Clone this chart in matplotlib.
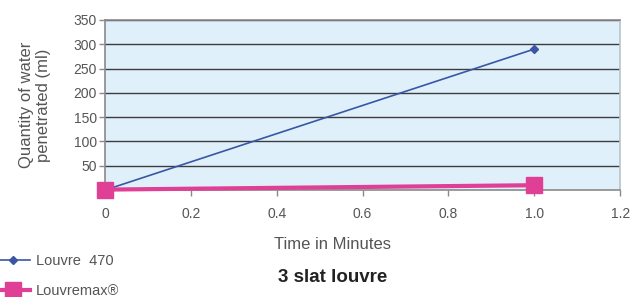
import matplotlib.pyplot as plt
from matplotlib.lines import Line2D

plt.rcParams['font.family'] = ['Liberation Sans', 'DejaVu Sans']

# data
minutes = [0, 1.0]
louvre_470 = [0, 290]
louvremax = [1, 10]
series_names = ['Louvre  470', 'Louvremax®']
y_ticks = [50, 100, 150, 200, 250, 300, 350]
x_ticks = [0, 0.2, 0.4, 0.6, 0.8, 1.0, 1.2]
x_labels = ['0', '0.2', '0.4', '0.6', '0.8', '1.0', '1.2']

blue = '#3a56a4'
pink = '#e03f96'
grey = '#555555'

fig = plt.figure(figsize=(6.4, 2.97), dpi=100)
ax = fig.add_axes([0.164, 0.36, 0.805, 0.573])
ax.set_facecolor('#dff0fb')

ax.plot(minutes, louvre_470, color=blue, lw=1.2, marker='D', ms=4.5, clip_on=False, zorder=3)
ax.plot(minutes, louvremax, color=pink, lw=3, marker='s', ms=11, clip_on=False, zorder=4)

ax.set_xlim(0, 1.2)
ax.set_ylim(0, 350)
ax.set_yticks(y_ticks)
ax.set_xticks(x_ticks)
ax.set_xticklabels(x_labels)
ax.yaxis.grid(True, color='#3c3c3c', lw=1)
ax.set_axisbelow(True)
for s in ax.spines.values():
    s.set_color('#8a8a8a')
    s.set_linewidth(1.2)
ax.spines['right'].set_color('#b8c4cc')
ax.tick_params(colors='#8a8a8a', labelcolor=grey, labelsize=10, length=4, width=1)
ax.tick_params(axis='x', pad=8)
ax.tick_params(axis='y', pad=2)

ax.set_ylabel('Quantity of water\npenetrated (ml)', fontsize=12, color=grey,
              labelpad=16, multialignment='center')
fig.text(0.52, 0.178, 'Time in Minutes', ha='center', va='center', fontsize=12, color=grey)
fig.text(0.52, 0.065, '3 slat louvre', ha='center', va='center', fontsize=13.5, fontweight='bold', color='#222222')

handles = [Line2D([], [], color=blue, lw=1.2, marker='D', ms=4.5),
           Line2D([], [], color=pink, lw=3, marker='s', ms=11)]
fig.legend(handles, series_names, loc='upper left', bbox_to_anchor=(-0.028, 0.19),
           frameon=False, fontsize=10.5, labelcolor=grey, handlelength=2.4,
           handletextpad=0.4, labelspacing=1.1)

fig.savefig('out.png', dpi=100)
